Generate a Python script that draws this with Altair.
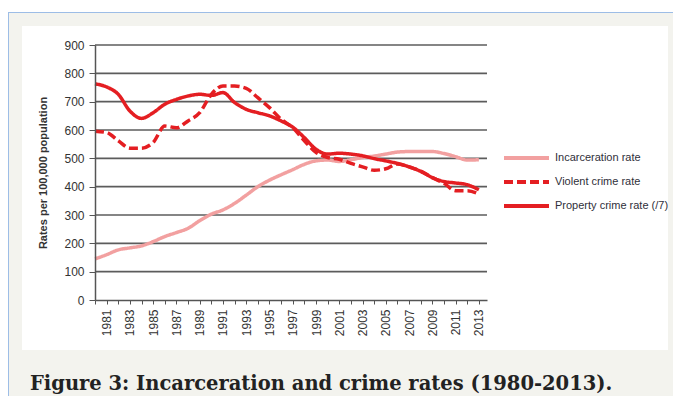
import altair as alt
import pandas as pd

years = list(range(1980, 2014))
incarceration = [145, 160, 177, 184, 191, 206, 224, 238, 253, 280, 303, 318, 341, 370, 400, 423, 442,
                 460, 479, 491, 494, 489, 495, 503, 508, 515, 522, 524, 524, 524, 517, 506, 494, 495]
violent = [596, 591, 562, 536, 536, 556, 614, 608, 632, 661, 726, 755, 755, 747, 714, 679, 638,
           608, 562, 521, 503, 497, 482, 470, 458, 463, 480, 470, 455, 432, 412, 386, 386, 374]
property_crime = [763, 752, 726, 667, 641, 661, 691, 708, 720, 726, 722, 732, 697, 673, 661, 650, 632,
                  610, 573, 532, 515, 518, 515, 509, 499, 491, 482, 470, 454, 432, 418, 413, 407, 389]
series_names = ["Incarceration rate", "Violent crime rate", "Property crime rate (/7)"]
series_colors = ["#f2a0a0", "#e41e22", "#e41e22"]
y_ticks = list(range(0, 1000, 100))
y_title = "Rates per 100,000 population"
caption = "Figure 3: Incarceration and crime rates (1980-2013)."

rows = []
for name, vals in zip(series_names, [incarceration, violent, property_crime]):
    for yr, v in zip(years, vals):
        rows.append({"year": yr, "rate": v, "series": name})
df = pd.DataFrame(rows)

W, H = 392, 255
L, T = 87, 37
R = 665 - L - W
B = 388 - T - H

one = pd.DataFrame({"caption": [caption]})

ysc = alt.Scale(domain=[0, 900], nice=False, zero=True)
xsc = alt.Scale(domain=[1980, 2013.7], nice=False, zero=False)

sans = "Liberation Sans"

y_axis = alt.Axis(values=y_ticks, grid=False, domainColor="#555", domainWidth=1.5,
                  tickColor="#555", tickSize=6, labelFont=sans,
                  labelFontSize=12, labelColor="#333", labelPadding=5, title=y_title,
                  titleFont=sans, titleFontSize=11, titleFontWeight="bold",
                  titleColor="#333", titleX=-52, titleY=H / 2, titleAngle=270,
                  titleAlign="center", titleBaseline="middle", zindex=1)

bg = alt.Chart(one).mark_rect(color="#f3f3ee").encode(
    x=alt.value(-L), x2=alt.value(W + R), y=alt.value(-33), y2=alt.value(H + B))
border_left = alt.Chart(one).mark_rule(color="#9dbde6", strokeWidth=1).encode(
    x=alt.value(-L + 0.5), y=alt.value(-33), y2=alt.value(H + B))
border_top = alt.Chart(one).mark_rule(color="#9dbde6", strokeWidth=1).encode(
    x=alt.value(-L), x2=alt.value(W + R), y=alt.value(-32.5))
panel = alt.Chart(one).mark_rect(color="white").encode(
    x=alt.value(-73), x2=alt.value(W + R - 5), y=alt.value(-19), y2=alt.value(305))

grid = alt.Chart(pd.DataFrame({"rate": y_ticks[1:]})).mark_rule(color="#5c5c5c", strokeWidth=1.6).encode(
    y=alt.Y("rate:Q", scale=ysc, axis=y_axis))

legend = alt.Legend(orient="none", legendX=407, legendY=103.5, symbolType="M-1,0L5,0", symbolSize=225,
                    symbolStrokeWidth=4, labelFont=sans,
                    labelFontSize=11, labelColor="#2f2f3a", rowPadding=6, labelOffset=34, title=None)

lines = alt.Chart(df).mark_line(strokeWidth=3.5, interpolate="monotone").encode(
    x=alt.X("year:Q", scale=xsc,
            axis=alt.Axis(values=years, labelExpr="datum.value % 2 == 1 ? datum.value : ''",
                          labelAngle=270, grid=False, domainColor="#555", domainWidth=1.5,
                          tickColor="#555", tickSize=4, labelFont=sans, labelFontSize=12,
                          labelColor="#333", labelPadding=5, title=None, zindex=1, labelFlush=False,
                          labelOverlap=False)),
    y=alt.Y("rate:Q", scale=ysc, axis=y_axis),
    color=alt.Color("series:N", scale=alt.Scale(domain=series_names, range=series_colors), legend=legend),
    strokeDash=alt.StrokeDash("series:N", scale=alt.Scale(domain=series_names, range=[[1, 0], [9, 4], [1, 0]]),
                              legend=legend),
)

cap = alt.Chart(one).mark_text(align="left", baseline="alphabetic", font="DejaVu Serif", fontSize=19.5,
                                fontWeight="bold", color="#222").encode(
    x=alt.value(-65), y=alt.value(345), text="caption:N")

chart = alt.layer(bg, border_left, border_top, panel, grid, lines, cap).properties(
    width=W, height=H,
    padding={"left": L, "top": T, "right": R, "bottom": B},
    autosize=alt.AutoSizeParams(type="none"),
).configure(background="white").configure_view(stroke=None)

chart.save("out.html", embed_options={"renderer": "svg", "actions": False})
